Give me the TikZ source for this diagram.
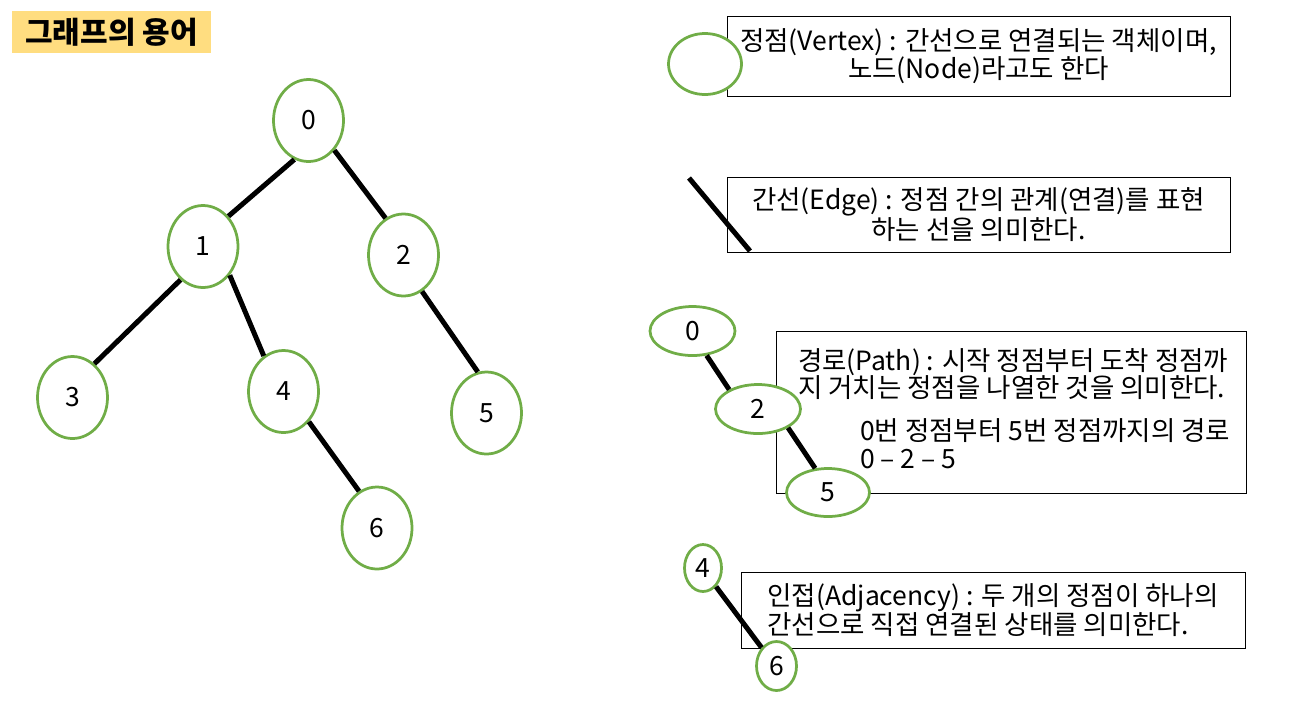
\documentclass[tikz,border=0pt]{standalone}
\usepackage{fontspec}
\setmainfont{Noto Sans CJK KR}
\usetikzlibrary{shapes.geometric}

\definecolor{vgreen}{HTML}{70AD47}
\definecolor{titlebg}{HTML}{FFDD80}

\begin{document}
\begin{tikzpicture}[x=1pt, y=-1pt,
    every node/.style={font=\fontsize{26.5}{28.5}\selectfont},
    vtx/.style={ellipse, draw=vgreen, line width=2.75pt, fill=white, inner sep=0pt},
    tree/.style={vtx, minimum width=70pt, minimum height=82pt},
    link/.style={line width=5pt, black},
    box/.style={draw, line width=1pt, inner sep=0pt}]

\useasboundingbox (0,0) rectangle (1305,716);

% title
\node (title) at (111.5,32) [fill=titlebg, minimum width=199pt, minimum height=42pt,
    font=\fontsize{30}{32}\selectfont\bfseries] {그래프의 용어};

% tree
\node (n0) at (308.5,120.5) [tree] {0};
\node (n1) at (203,246.5) [tree] {1};
\node (n2) at (403.5,255) [tree] {2};
\node (n3) at (72.5,397.5) [tree] {3};
\node (n4) at (283.5,391.5) [tree] {4};
\node (n5) at (486.5,413) [tree] {5};
\node (n6) at (377,528) [tree] {6};

\draw [link] (n0.250) -- (n1.50);
\draw [link] (n0.311) -- (n2.116);
\draw [link] (n1.236) -- (n3.57);
\draw [link] (n1.313) -- (n4.119);
\draw [link] (n2.297) -- (n5.102);
\draw [link] (n4.310) -- (n6.116);

% vertex
\node (vxbox) at (978.5,56) [box, minimum width=503pt, minimum height=80pt, align=center]
    {정점(Vertex) : 간선으로 연결되는 객체이며,\\노드(Node)라고도 한다};
\node (vx) at (705,64) [vtx, minimum width=73pt, minimum height=61pt] {};

% edge
\node (edgebox) at (978.5,214.5) [box, minimum width=503pt, minimum height=75pt, align=center]
    {간선(Edge) : 정점 간의 관계(연결)를 표현\\하는 선을 의미한다.};
\coordinate (e1) at (689,178);
\coordinate (e2) at (750,251);
\draw [link] (e1) -- (e2);

% path
\node (pathbox) at (1011.5,412) [box, minimum width=470pt, minimum height=162pt] {};
\node (path1) at (798,370) [anchor=base west, inner sep=0pt] {경로(Path) : 시작 정점부터 도착 정점까};
\node (path2) at (798,397) [anchor=base west, inner sep=0pt] {지 거치는 정점을 나열한 것을 의미한다.};
\node (path3) at (860,440) [anchor=base west, inner sep=0pt] {0번 정점부터 5번 정점까지의 경로};
\node (path4) at (860,468) [anchor=base west, inner sep=0pt] {0 -- 2 -- 5};
\node (p0) at (692.5,331) [vtx, minimum width=85pt, minimum height=49pt] {0};
\node (p2) at (758,409) [vtx, minimum width=85pt, minimum height=49pt] {2};
\node (p5) at (828,492.5) [vtx, minimum width=83pt, minimum height=48pt] {5};
\draw [link] (p0.300) -- (p2.146);
\draw [link] (p2.328) -- (p5.118);

% adjacency
\node (adjbox) at (993,610) [box, minimum width=504pt, minimum height=76pt, align=left]
    {인접(Adjacency) : 두 개의 정점이 하나의\\간선으로 직접 연결된 상태를 의미한다.};
\node (a4) at (703,568) [vtx, minimum width=37pt, minimum height=47pt] {4};
\node (a6) at (776.5,666) [vtx, minimum width=40pt, minimum height=49pt] {6};
\draw [link] (a4.305) -- (a6.129);
\end{tikzpicture}
\end{document}
